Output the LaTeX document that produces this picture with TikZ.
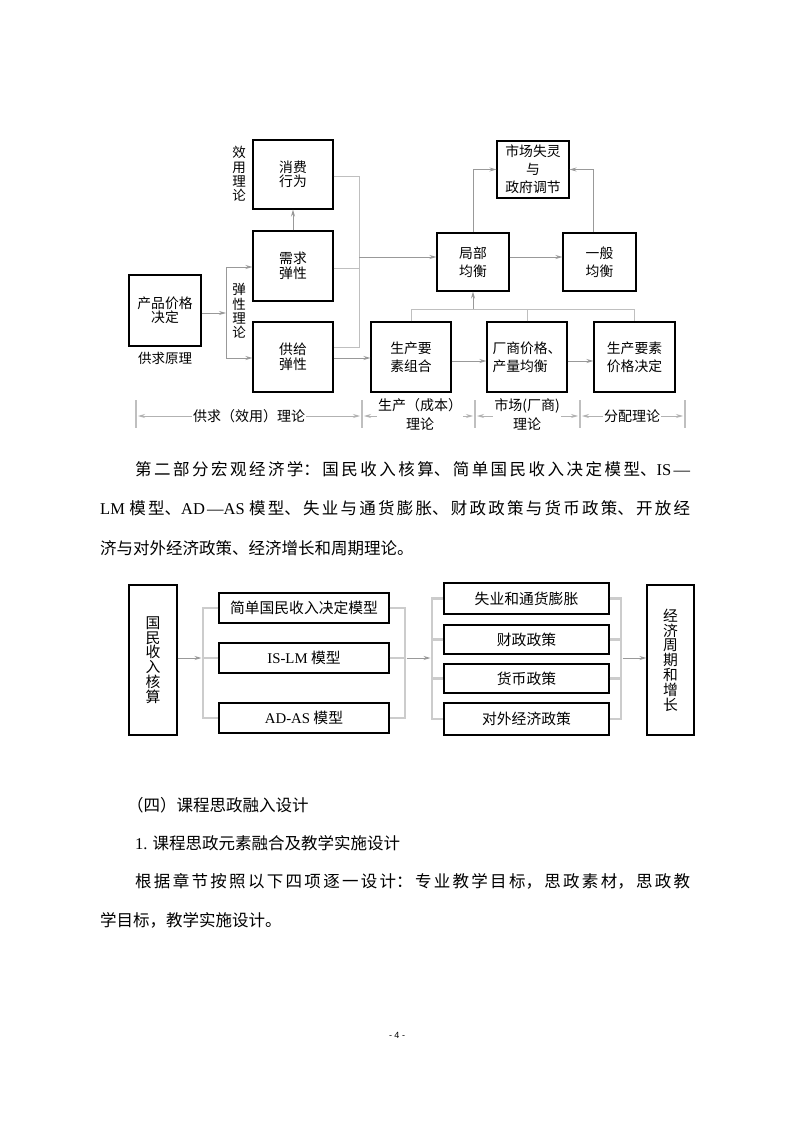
\documentclass[tikz,border=0pt]{standalone}
\usepackage{fontspec}
\setmainfont{Noto Sans CJK SC}
\newfontfamily\lat{Liberation Serif}
\newfontfamily\pgn{Liberation Sans}
\usetikzlibrary{arrows.meta,calc}
\XeTeXlinebreaklocale "zh"
\XeTeXlinebreakskip=0pt plus 6pt
\newcommand\dfont{\fontsize{13.8}{14.5}\selectfont}
\newcommand\vfont{\fontsize{13.5}{14.2}\selectfont}
\newcommand\dfontb{\fontsize{13.8}{18}\selectfont}
\newcommand\lfont{\fontsize{14}{19}\selectfont}
\newcommand\bfont{\fontsize{14.8}{14.8}\selectfont}
\newcommand\bodyfont{\fontsize{16.5}{39.5}\selectfont}
\tikzset{
  box/.style={draw=black, line width=1.1pt, inner sep=0pt, align=center, font=\dfont},
  boxb/.style={box, font=\dfontb},
  bbox/.style={draw=black, line width=1.1pt, inner sep=0pt, align=center, font=\bfont},
  arr/.style={draw=gray!80, line width=0.9pt, -{Stealth[length=7pt,width=4pt]}},
  darr/.style={draw=gray!60, line width=0.9pt, {Stealth[length=7pt,width=4pt]}-{Stealth[length=7pt,width=4pt]}},
  lg/.style={draw=gray!50, line width=1pt},
  tick/.style={draw=gray!50, line width=1.4pt},
  br/.style={draw=gray!40, line width=2.6pt},
  lab/.style={fill=white, inner sep=1pt, align=center, font=\lfont},
  vtxt/.style={inner sep=0pt, align=center, font=\vfont},
  ptxt/.style={anchor=west, inner sep=0pt, font=\bodyfont},
}
\begin{document}
\begin{tikzpicture}[x=1pt,y=-1pt]
\useasboundingbox (0,0) rectangle (794,1123);
\fill[white] (0,0) rectangle (794,1123);

% ---------- top diagram ----------
\node[box,minimum width=80pt,minimum height=69pt] (xf) at (293,174.5) {消费\\行为};
\node[box,minimum width=80pt,minimum height=70pt] (xq) at (293,266) {需求\\弹性};
\node[box,minimum width=80pt,minimum height=70pt] (gj) at (293,357) {供给\\弹性};
\node[box,minimum width=72pt,minimum height=71pt] (cp) at (165,310.5) {产品价格\\决定};
\node[boxb,minimum width=72pt,minimum height=58pt] (jb) at (473,262) {局部\\均衡};
\node[boxb,minimum width=73pt,minimum height=58pt] (yb) at (599.5,262) {一般\\均衡};
\node[boxb,minimum width=72pt,minimum height=57pt] (sc) at (533,169.5) {市场失灵\\与\\政府调节};
\node[boxb,minimum width=80pt,minimum height=70pt] (sz) at (411,357) {生产要\\素组合};
\node[boxb,minimum width=80pt,minimum height=70pt,align=left] (cs) at (527,357) {厂商价格、\\产量均衡};
\node[boxb,minimum width=81pt,minimum height=70pt] (sj) at (634.5,357) {生产要素\\价格决定};

\node[vtxt] (xyl) at (239,174) {效\\用\\理\\论};
\node[vtxt] (txl) at (239,311) {弹\\性\\理\\论};
\node[vtxt] (gqy) at (165,358) {供求原理};

% left junction
\coordinate (lj1) at (226,267);
\coordinate (lj2) at (226,358);
\coordinate (lja) at (226,313);
\draw[draw=gray!80, line width=0.9pt] (lj1) -- (lj2);
\draw[arr] (cp.east |- lja) -- (lja);
\draw[arr] (lj1) -- (xq.west |- lj1);
\draw[arr] (lj2) -- (gj.west |- lj2);
\draw[arr] (xq.north) -- (xf.south);

% right junction
\coordinate (rj1) at (359,177);
\coordinate (rjm) at (359,268);
\coordinate (rj2) at (359,347);
\coordinate (rja) at (359,257);
\draw[lg] (xf.east |- rj1) -- (rj1) -- (rj2) -- (gj.east |- rj2);
\draw[lg] (xq.east |- rjm) -- (rjm);
\draw[arr] (rja) -- (jb.west |- rja);
\coordinate (gs) at (0,358);
\draw[arr] (gj.east |- gs) -- (sz.west |- gs);
\coordinate (ay) at (0,257);
\draw[arr] (jb.east |- ay) -- (yb.west |- ay);
\draw[arr] (jb.north) |- (sc.west);
\draw[arr] ([xshift=-6pt]yb.north) |- (sc.east);

% bottom bus
\coordinate (bus) at (0,309);
\draw[lg] (sz.north) |- (sj.north |- bus) -- (sj.north);
\draw[lg] (cs.north) -- (cs.north |- bus);
\draw[arr] (jb.south |- bus) -- (jb.south);
\coordinate (ry) at (0,361);
\draw[arr] (sz.east |- ry) -- (cs.west |- ry);
\draw[arr] (cs.east |- ry) -- (sj.west |- ry);

% bracket scale
\coordinate (t1) at (136,414);
\coordinate (t2) at (362,414);
\coordinate (t3) at (475,414);
\coordinate (t4) at (580,414);
\coordinate (t5) at (685,414);
\foreach \t in {t1,t2,t3,t4,t5} {\draw[tick] ([yshift=14pt]\t) -- ([yshift=-14pt]\t);}
\coordinate (am) at (0,416);
\draw[darr] ([xshift=2pt]t1 |- am) -- ([xshift=-2pt]t2 |- am);
\draw[darr] ([xshift=2pt]t2 |- am) -- ([xshift=-2pt]t3 |- am);
\draw[darr] ([xshift=2pt]t3 |- am) -- ([xshift=-2pt]t4 |- am);
\draw[darr] ([xshift=2pt]t4 |- am) -- ([xshift=-2pt]t5 |- am);
\node[lab] (l1) at (249,416) {供求（效用）理论};
\node[lab] (l2) at (420,414.5) {生产（成本）\\理论};
\node[lab] (l3) at (527,414.5) {市场(厂商)\\理论};
\node[lab] (l4) at (632,416) {分配理论};

% ---------- text ----------
\node[anchor=north west, inner sep=0pt, text width=590pt, align=justify, font=\bodyfont] (p1) at (100,461)
 {\hspace*{35pt}第二部分宏观经济学：国民收入核算、简单国民收入决定模型、{\lat IS—}\linebreak{\lat LM} 模型、{\lat AD—AS} 模型、失业与通货膨胀、财政政策与货币政策、开放经\linebreak 济与对外经济政策、经济增长和周期理论。};

% ---------- bottom diagram ----------
\node[bbox,minimum width=48pt,minimum height=150pt] (gm) at (153,660) {国\\民\\收\\入\\核\\算};
\node[bbox,minimum width=170pt,minimum height=30pt] (m1) at (304,608) {简单国民收入决定模型};
\node[bbox,minimum width=170pt,minimum height=30pt] (m2) at (304,658) {{\lat IS-LM} 模型};
\node[bbox,minimum width=170pt,minimum height=30pt] (m3) at (304,718) {{\lat AD-AS} 模型};
\node[bbox,minimum width=165pt,minimum height=31pt] (q1) at (526.5,598.5) {失业和通货膨胀};
\node[bbox,minimum width=165pt,minimum height=29pt] (q2) at (526.5,639.5) {财政政策};
\node[bbox,minimum width=165pt,minimum height=29pt] (q3) at (526.5,678.5) {货币政策};
\node[bbox,minimum width=165pt,minimum height=32pt] (q4) at (526.5,719) {对外经济政策};
\node[bbox,minimum width=47pt,minimum height=150pt] (jj) at (670.5,660) {经\\济\\周\\期\\和\\增\\长};

\coordinate (b1) at (203,0);
\coordinate (b2) at (405,0);
\coordinate (b3) at (432,0);
\coordinate (b4) at (621,0);
\coordinate (ym) at (0,658);
\draw[br] (m1.west) -- (m1.west -| b1) -- (m3.west -| b1) -- (m3.west);
\draw[br] (m2.west) -- (m2.west -| b1);
\draw[br] (m1.east) -- (m1.east -| b2) -- (m3.east -| b2) -- (m3.east);
\draw[br] (m2.east) -- (m2.east -| b2);
\draw[br] (q1.west) -- (q1.west -| b3) -- (q4.west -| b3) -- (q4.west);
\draw[br] (q2.west) -- (q2.west -| b3);
\draw[br] (q3.west) -- (q3.west -| b3);
\draw[br] (q1.east) -- (q1.east -| b4) -- (q4.east -| b4) -- (q4.east);
\draw[br] (q2.east) -- (q2.east -| b4);
\draw[br] (q3.east) -- (q3.east -| b4);
\draw[arr] (gm.east |- ym) -- ([xshift=-1.5pt]b1 |- ym);
\draw[arr] ([xshift=1.5pt]b2 |- ym) -- ([xshift=-1.5pt]b3 |- ym);
\draw[arr] ([xshift=1.5pt]b4 |- ym) -- (jj.west |- ym);

% ---------- lower text ----------
\node[ptxt] (h4) at (127,805) {（四）课程思政融入设计};
\node[ptxt] (h1) at (135,843) {{\lat 1.} 课程思政元素融合及教学实施设计};
\node[anchor=north west, inner sep=0pt, text width=590pt, align=justify, font=\bodyfont] (p3) at (100,873)
 {\hspace*{35pt}根据章节按照以下四项逐一设计：专业教学目标，思政素材，思政教\linebreak 学目标，教学实施设计。};

\node[inner sep=0pt, font=\pgn\fontsize{9}{9}\selectfont] (pg) at (397,1035) {- 4 -};
\end{tikzpicture}
\end{document}
